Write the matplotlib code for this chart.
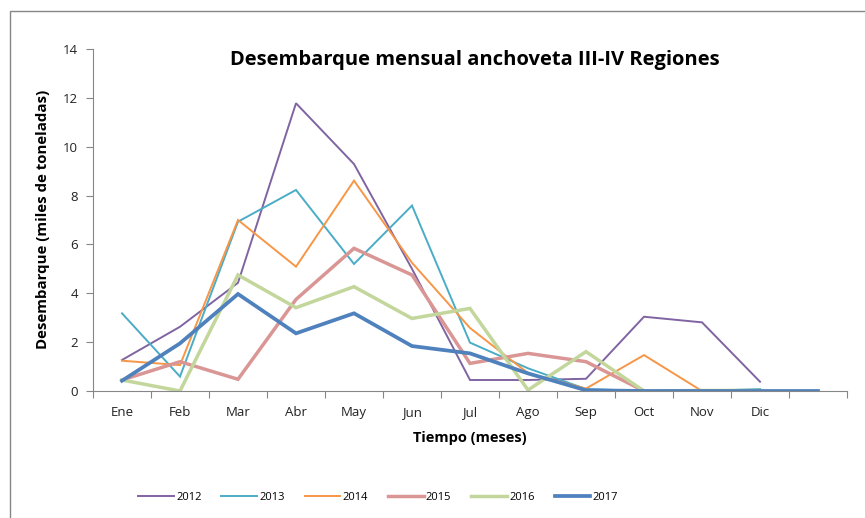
import matplotlib
matplotlib.use("Agg")
import matplotlib.pyplot as plt
from matplotlib.patches import Rectangle

months = ["Ene", "Feb", "Mar", "Abr", "May", "Jun", "Jul", "Ago", "Sep", "Oct", "Nov", "Dic"]

y2012 = [1.27, 2.63, 4.43, 11.78, 9.29, 5.0, 0.45, 0.45, 0.5, 3.04, 2.81, 0.38]
y2013 = [3.18, 0.59, 6.93, 8.23, 5.2, 7.59, 1.98, 0.93, 0.08, 0.0, 0.0, 0.08]
y2014 = [1.24, 1.06, 7.0, 5.09, 8.61, 5.25, 2.58, 0.73, 0.1, 1.47, 0.0]
y2015 = [0.45, 1.2, 0.48, 3.75, 5.84, 4.75, 1.13, 1.54, 1.2, 0.0]
y2016 = [0.45, 0.0, 4.75, 3.41, 4.27, 2.97, 3.38, 0.04, 1.61, 0.0, 0.02, 0.02]
y2017 = [0.42, 1.95, 3.97, 2.36, 3.18, 1.84, 1.54, 0.72, 0.03, 0.0, 0.0, 0.0, 0.0]

series = [
    ("2012", y2012, "#8064A2", 1.4),
    ("2013", y2013, "#4BACC6", 1.4),
    ("2014", y2014, "#F79646", 1.4),
    ("2015", y2015, "#D99694", 2.5),
    ("2016", y2016, "#C3D69B", 2.5),
    ("2017", y2017, "#4F81BD", 2.7),
]

plt.rcParams['font.family'] = ['Open Sans', 'DejaVu Sans']

fig = plt.figure(figsize=(8.65, 5.18), dpi=100)
fig.patches.append(Rectangle((10/865, -0.1), 1.2, (518-11)/518 + 0.1, transform=fig.transFigure,
                             fill=False, edgecolor="#868686", linewidth=1.0))

ax = fig.add_axes([93/865, (518-391)/518, (847-93)/865, (391-49)/518])

for name, vals, col, lw in series:
    ax.plot(range(len(vals)), vals, color=col, linewidth=lw, label=name,
            solid_joinstyle='miter')

ax.set_xlim(-0.5, 12.5)
ax.set_ylim(0, 14)
ax.set_yticks(range(0, 15, 2))
ax.set_xticks([i - 0.5 for i in range(14)])
ax.set_xticklabels([])
ax.set_xticks(range(12), minor=True)
ax.set_xticklabels(months, minor=True)
ax.tick_params(axis='x', which='major', direction='out', length=5, color="#868686")
ax.tick_params(axis='x', which='minor', length=0, pad=11, labelsize=9.5, labelcolor="#222222")
ax.tick_params(axis='y', direction='out', length=5, color="#868686", labelsize=9.5,
               labelcolor="#222222", pad=6)

for s in ["top", "right"]:
    ax.spines[s].set_visible(False)
for s in ["left", "bottom"]:
    ax.spines[s].set_color("#868686")

fig.text(475/865, 1 - 60/518, "Desembarque mensual anchoveta III-IV Regiones",
         ha='center', va='center', fontsize=14.5, fontweight='bold')
fig.text(43/865, 1 - 219/518, "Desembarque (miles de toneladas)", rotation=90,
         ha='center', va='center', fontsize=10.8, fontweight='bold')
fig.text(470/865, 1 - 438/518, "Tiempo (meses)", ha='center', va='center',
         fontsize=10.5, fontweight='bold')

leg = fig.legend(loc='center', bbox_to_anchor=(378/865, 1 - 497/518), ncol=6,
                 frameon=False, fontsize=8, handlelength=3.2, handletextpad=0.2,
                 columnspacing=1.8)

fig.savefig("out.png", dpi=100)
